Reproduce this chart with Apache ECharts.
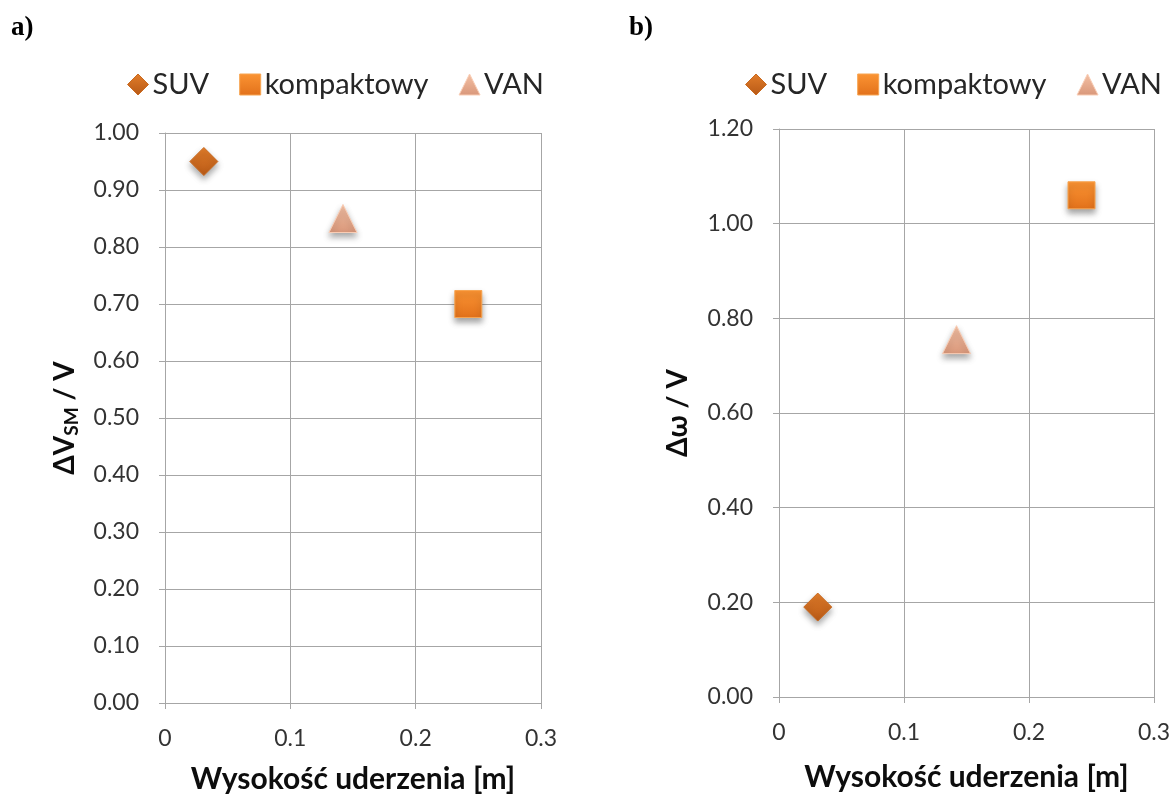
<!DOCTYPE html>
<html>
<head>
<meta charset="utf-8">
<title>Wysokość uderzenia</title>
<script src="https://cdn.jsdelivr.net/npm/echarts@6/dist/echarts.min.js"></script>
<style>
  html, body { margin: 0; padding: 0; background: #ffffff; }
  #chart { width: 1174px; height: 796px; }
</style>
</head>
<body>
<div id="chart"></div>
<script>
// Vehicle types and impact heights [m]
const categories = ['SUV', 'kompaktowy', 'VAN'];
const impactHeight = [0.031, 0.242, 0.142];
// Panel a): ΔV_SM / V
const dvRatio = [0.95, 0.70, 0.85];
// Panel b): Δω / V
const dOmegaRatio = [0.19, 1.06, 0.755];
const xTicks = { min: 0, max: 0.3, interval: 0.1 };
const yTicksA = { min: 0, max: 1.0, interval: 0.1 };
const yTicksB = { min: 0, max: 1.2, interval: 0.2 };

const FONT = 'Lato, "Open Sans", sans-serif';
const GRID_GRAY = '#a6a6a6';

const markerStyle = {
  SUV: {
    symbol: 'diamond', size: 28,
    color: { type: 'linear', x: 0, y: 0, x2: 0, y2: 1,
      colorStops: [{ offset: 0, color: '#e27d2a' }, { offset: 1, color: '#b75916' }] },
    border: '#c96a20'
  },
  kompaktowy: {
    symbol: 'rect', size: 27,
    color: { type: 'linear', x: 0, y: 0, x2: 0, y2: 1,
      colorStops: [{ offset: 0, color: '#fb9433' }, { offset: 1, color: '#e2711b' }] },
    border: '#f7a451'
  },
  VAN: {
    symbol: 'triangle', size: 28,
    color: { type: 'linear', x: 0, y: 0, x2: 0, y2: 1,
      colorStops: [{ offset: 0, color: '#f4c1a5' }, { offset: 1, color: '#d9977a' }] },
    border: '#f9cdb5'
  }
};

function legendFor(left) {
  return {
    left: left, top: 70, width: 440, padding: 0,
    itemWidth: 21, itemHeight: 21, itemGap: 30,
    textStyle: { fontFamily: FONT, fontSize: 29, color: '#262626', padding: [0, 0, 0, -1] },
    data: categories.map(c => ({ name: c, icon: markerStyle[c].symbol,
      itemStyle: { color: markerStyle[c].color, borderColor: markerStyle[c].border, borderWidth: 1 } }))
  };
}

function xAxisFor(gridIndex, nameGap) {
  return {
    type: 'value', gridIndex: gridIndex,
    min: xTicks.min, max: xTicks.max, interval: xTicks.interval,
    name: 'Wysokość uderzenia [m]', nameLocation: 'middle', nameGap: nameGap,
    nameTextStyle: { fontFamily: FONT, fontSize: 30, fontWeight: 'bold', color: '#0d0d0d' },
    axisLine: { show: true, lineStyle: { color: GRID_GRAY, width: 1 } },
    axisTick: { show: true, length: 6, lineStyle: { color: GRID_GRAY } },
    axisLabel: { fontFamily: FONT, fontSize: 23, color: '#333333', margin: 24,
      formatter: v => (Math.round(v * 10) / 10).toString() },
    splitLine: { show: true, lineStyle: { color: GRID_GRAY, width: 1 } }
  };
}

function yAxisFor(gridIndex, ticks, name, rich, nameGap) {
  return {
    type: 'value', gridIndex: gridIndex,
    min: ticks.min, max: ticks.max, interval: ticks.interval,
    name: name, nameLocation: 'middle', nameGap: nameGap, nameRotate: 90,
    nameTextStyle: { fontFamily: FONT, fontSize: 28, fontWeight: 'bold', color: '#0d0d0d', rich: rich },
    axisLine: { show: true, lineStyle: { color: GRID_GRAY, width: 1 } },
    axisTick: { show: true, length: 6, lineStyle: { color: GRID_GRAY } },
    axisLabel: { fontFamily: FONT, fontSize: 23, color: '#333333', margin: 26,
      formatter: v => v.toFixed(2) },
    splitLine: { show: true, lineStyle: { color: GRID_GRAY, width: 1 } }
  };
}

function seriesFor(gridIndex, values) {
  return categories.map((c, i) => ({
    name: c, type: 'scatter',
    xAxisIndex: gridIndex, yAxisIndex: gridIndex,
    symbol: markerStyle[c].symbol, symbolSize: markerStyle[c].size,
    itemStyle: {
      color: markerStyle[c].color, borderColor: markerStyle[c].border, borderWidth: 1,
      shadowBlur: 6, shadowOffsetY: 4, shadowColor: 'rgba(0,0,0,0.35)', opacity: 1
    },
    emphasis: { disabled: true },
    data: [[impactHeight[i], values[i]]]
  }));
}

const richA = {
  t: { fontFamily: FONT, fontSize: 28, fontWeight: 'bold', color: '#0d0d0d' },
  sub: { fontFamily: FONT, fontSize: 19, fontWeight: 'bold', color: '#0d0d0d', padding: [14, 0, 0, 0] }
};

const chart = echarts.init(document.getElementById('chart'), null, { renderer: 'canvas' });
chart.setOption({
  backgroundColor: '#ffffff',
  animation: false,
  title: [
    { text: 'a)', left: 6, top: 10, textStyle: { fontFamily: '"Liberation Serif", serif', fontSize: 27, fontWeight: 'bold', color: '#000' } },
    { text: 'b)', left: 624, top: 10, textStyle: { fontFamily: '"Liberation Serif", serif', fontSize: 27, fontWeight: 'bold', color: '#000' } }
  ],
  legend: [legendFor(127), legendFor(745)],
  grid: [
    { left: 165, right: 633, top: 133, bottom: 93, outerBoundsMode: 'none' },
    { left: 779, right: 20, top: 129, bottom: 99, outerBoundsMode: 'none' }
  ],
  xAxis: [xAxisFor(0, 61), xAxisFor(1, 65)],
  yAxis: [
    yAxisFor(0, yTicksA, '{t|ΔV}{sub|SM}{t| / V}', richA, 84),
    yAxisFor(1, yTicksB, 'Δω / V', null, 87)
  ],
  series: [].concat(seriesFor(0, dvRatio), seriesFor(1, dOmegaRatio))
});
</script>
</body>
</html>
